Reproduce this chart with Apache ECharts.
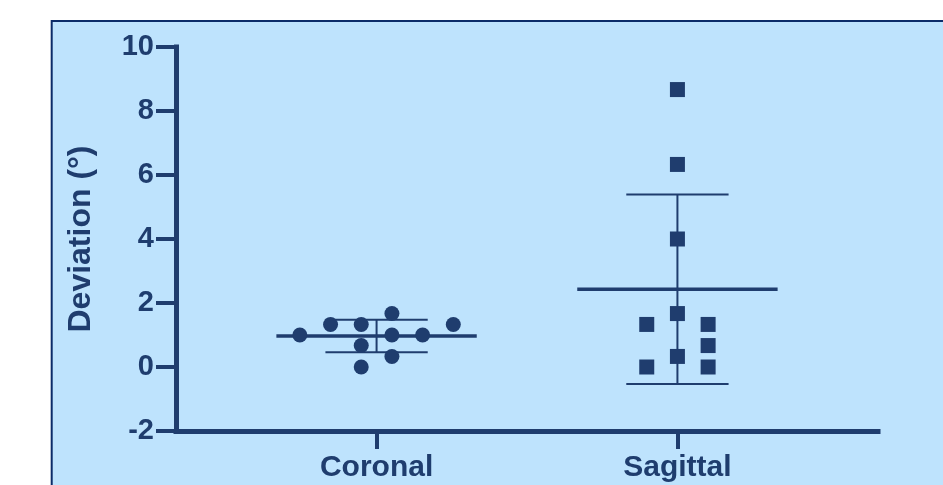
<!DOCTYPE html>
<html>
<head>
<meta charset="utf-8">
<script src="https://cdn.jsdelivr.net/npm/echarts@6/dist/echarts.min.js"></script>
<style>
html,body{margin:0;padding:0;background:#ffffff;}
#c{width:943px;height:485px;}
</style>
</head>
<body>
<div id="c"></div>
<script>
// ---- data ----
const categories = ['Coronal', 'Sagittal'];
const coronal = [1.0, 1.33, 1.33, 0.67, 0, 1.67, 1.0, 0.33, 1.0, 1.33];
const coronalJitter = [-0.255, -0.153, -0.051, -0.051, -0.051, 0.051, 0.051, 0.051, 0.153, 0.255];
const sagittal = [8.67, 6.33, 4, 1.67, 1.33, 1.33, 0.67, 0.33, 0, 0];
const sagittalJitter = [0, 0, 0, 0, -0.102, 0.102, 0.102, 0, -0.102, 0.102];
const yMin = -2, yMax = 10, yStep = 2;
const yAxisTitle = 'Deviation (°)';

// ---- helpers ----
function mean(a) { return a.reduce((s, v) => s + v, 0) / a.length; }
function sd(a) { const m = mean(a); return Math.sqrt(a.reduce((s, v) => s + (v - m) * (v - m), 0) / (a.length - 1)); }

const groups = [coronal, sagittal];
const jitters = [coronalJitter, sagittalJitter];
const pointData = groups.map((g, gi) => g.map((v, i) => [gi + 1 + jitters[gi][i], v]));
const statData = groups.map((g, gi) => [gi + 1, mean(g), sd(g)]);

const ink = '#1f3d6e';
const font = '"Liberation Sans", Arial, sans-serif';

const chart = echarts.init(document.getElementById('c'), null, { renderer: 'canvas' });
chart.setOption({
  animation: false,
  backgroundColor: '#ffffff',
  graphic: [{
    type: 'rect', z: -10, silent: true,
    shape: { x: 51.7, y: 21, width: 1000, height: 600 },
    style: { fill: '#bee3fd', stroke: '#0c2c69', lineWidth: 2 }
  }],
  grid: { left: 176, right: 65, top: 47, bottom: 54, containLabel: false },
  xAxis: {
    type: 'value', min: 1 / 3, max: 8 / 3,
    axisLine: { show: true, onZero: false, lineStyle: { color: ink, width: 5, cap: 'square' } },
    axisTick: { show: true, customValues: [1, 2], length: 18, lineStyle: { color: ink, width: 4 } },
    axisLabel: {
      show: true, customValues: [1, 2], margin: 22,
      formatter: v => categories[Math.round(v) - 1] || '',
      color: ink, fontFamily: font, fontWeight: 'bold', fontSize: 30
    },
    splitLine: { show: false }
  },
  yAxis: {
    type: 'value', min: yMin, max: yMax, interval: yStep,
    name: yAxisTitle, nameLocation: 'middle', nameGap: 79, nameRotate: 90,
    nameTextStyle: { color: ink, fontFamily: font, fontWeight: 'bold', fontSize: 32 },
    axisLine: { show: true, onZero: false, lineStyle: { color: ink, width: 5, cap: 'square' } },
    axisTick: { show: true, length: 20, lineStyle: { color: ink, width: 4 } },
    axisLabel: { margin: 22, color: ink, fontFamily: font, fontWeight: 'bold', fontSize: 29 },
    splitLine: { show: false }
  },
  series: [
    {
      type: 'custom', z: 2, silent: true,
      data: statData,
      renderItem: function (params, api) {
        const x = api.value(0), m = api.value(1), s = api.value(2);
        const l = api.coord([x - 0.333, m]);
        const r = api.coord([x + 0.333, m]);
        const top = api.coord([x, m + s]);
        const bot = api.coord([x, m - s]);
        const cl = api.coord([x - 0.17, m])[0];
        const cr = api.coord([x + 0.17, m])[0];
        const thin = { stroke: ink, lineWidth: 2 };
        return {
          type: 'group',
          children: [
            { type: 'line', shape: { x1: top[0], y1: top[1], x2: bot[0], y2: bot[1] }, style: thin },
            { type: 'line', shape: { x1: cl, y1: top[1], x2: cr, y2: top[1] }, style: thin },
            { type: 'line', shape: { x1: cl, y1: bot[1], x2: cr, y2: bot[1] }, style: thin },
            { type: 'line', shape: { x1: l[0], y1: l[1], x2: r[0], y2: r[1] }, style: { stroke: ink, lineWidth: 3.5 } }
          ]
        };
      }
    },
    {
      type: 'scatter', z: 3, silent: true,
      symbol: 'circle', symbolSize: 15,
      itemStyle: { color: ink, opacity: 1 },
      data: pointData[0]
    },
    {
      type: 'scatter', z: 3, silent: true,
      symbol: 'rect', symbolSize: 15,
      itemStyle: { color: ink, opacity: 1 },
      data: pointData[1]
    }
  ]
});
</script>
</body>
</html>
